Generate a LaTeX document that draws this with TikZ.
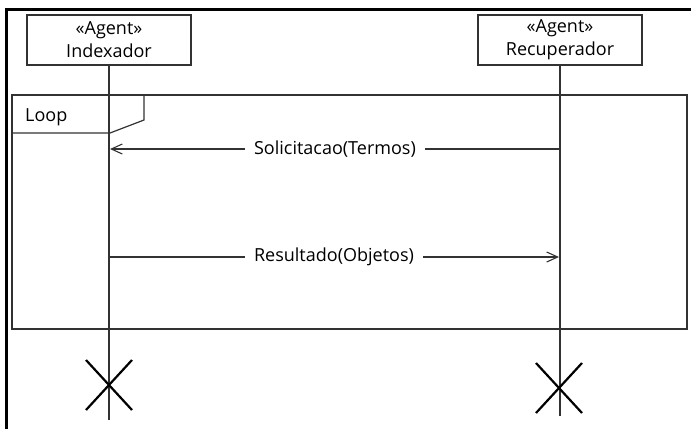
\documentclass[tikz,border=0pt]{standalone}
\usepackage{fontspec}
\setmainfont{Open Sans}
\usepackage{tikz}
\usetikzlibrary{
    positioning,    % Relative positioning
    arrows.meta,    % Modern arrow tips
    calc            % Coordinate calculations
}
\definecolor{LineGray}{RGB}{50,50,50}
\tikzset{agent box/.style={
    rectangle,
    draw=LineGray,
    line width=1.2pt,
    align=center,
    minimum width=164pt,
    minimum height=50pt,
    inner sep=0pt,
    font=\fontsize{18}{23}\selectfont
}}
\tikzset{lifeline/.style={
    draw=LineGray,
    line width=1.2pt
}}
\tikzset{message/.style={
    lifeline,
    -{Straight Barb[length=11pt,width=10pt,line width=1.1pt]}
}}
\tikzset{message label/.style={
    fill=white,
    inner xsep=9pt,
    inner ysep=1pt,
    font=\fontsize{18}{20}\selectfont
}}
\tikzset{destroy mark/.style={
    draw=black,
    line width=2.2pt
}}

\begin{document}
\begin{tikzpicture}[x=1pt,y=-1pt]
    \useasboundingbox (0,0) rectangle (691,429);

    % frame of the picture
    \draw[line width=3pt] (6,429) -- (6,9.5) -- (691,9.5);

    % agents
    \node[agent box] (idx) at (109,40) {«Agent»\\Indexador};
    \node[agent box] (rec) at (560,40) {«Agent»\\Recuperador};

    % loop fragment
    \draw[lifeline] (12,95) rectangle (687,329);
    \draw[lifeline] (12,133) -- (110,133) -- (144,120) -- (144,95);
    \node[font=\fontsize{18}{20}\selectfont, anchor=base west, inner sep=0pt] (loop) at (25,121) {Loop};

    % lifelines
    \coordinate (idx end) at (109,420);
    \coordinate (rec end) at (560,416);
    \draw[lifeline] (idx) -- (idx end);
    \draw[lifeline] (rec) -- (rec end);

    % messages
    \coordinate (m1 from) at (560,149);
    \coordinate (m1 to) at (110,149);
    \coordinate (m2 from) at (109,257);
    \coordinate (m2 to) at (559,257);
    \draw[message] (m1 from) -- node[message label] (m1) {Solicitacao(Termos)} (m1 to);
    \draw[message] (m2 from) -- node[message label] (m2) {Resultado(Objetos)} (m2 to);

    % destruction
    \coordinate (x1) at (109,385);
    \coordinate (x2) at (559,388);
    \draw[destroy mark] ($(x1)+(-23,-25)$) -- ($(x1)+(23,25)$)
        ($(x1)+(-23,25)$) -- ($(x1)+(23,-25)$);
    \draw[destroy mark] ($(x2)+(-23,-25)$) -- ($(x2)+(23,25)$)
        ($(x2)+(-23,25)$) -- ($(x2)+(23,-25)$);
\end{tikzpicture}
\end{document}
